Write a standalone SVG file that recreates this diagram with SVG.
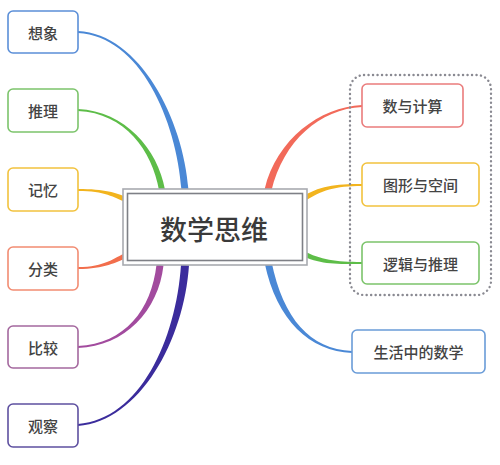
<svg xmlns="http://www.w3.org/2000/svg" width="500" height="465" viewBox="0 0 500 465">
<style>
.node rect{fill:#fff;stroke-width:1.6}
.node text{font-family:"Noto Sans CJK SC","Noto Sans",sans-serif;font-size:15px;font-weight:500;fill:#444;text-anchor:middle;dominant-baseline:central}
.rt text{font-size:15px}
</style>
<rect width="500" height="465" fill="#fff"/>
<g id="connectors">
<path d="M78,31 C140,34 183.5,119.75 188.5,189.75 L181.5,190.25 C176.5,120.25 140,36 78,33 Z" fill="#4a88d6"/>
<path d="M78,109 C125,111 157.95,149.5 164.95,189.5 L159.05,190.5 C152.05,150.5 125,113 78,111 Z" fill="#5dbd48"/>
<path d="M78,189 C105,189 115.95,192.7 127.95,197.7 L126.05,202.3 C114.05,197.3 105,191 78,191 Z" fill="#f2b41e"/>
<path d="M78,267 C105,267 114.05,257.7 126.05,252.7 L127.95,257.3 C115.95,262.3 105,269 78,269 Z" fill="#f26e4c"/>
<path d="M78,346 C125,344 151.53,309.61 156.53,264.61 L163.47,265.39 C158.47,310.39 125,346 78,348 Z" fill="#a24b9e"/>
<path d="M78,424 C140,419 176,339.73 181,264.73 L189,265.27 C184,340.27 140,421 78,426 Z" fill="#3b2c9c"/>
<path d="M264.6,189.2 C276.6,139.2 320,107 362,105 L362,107 C320,109 283.4,140.8 271.4,190.8 Z" fill="#f26a5a"/>
<path d="M300.6,197.9 C318.6,185.9 335,184 362,184 L362,186 C335,186 321.4,190.1 303.4,202.1 Z" fill="#f2b41e"/>
<path d="M303.1,250.8 C321.1,259.8 335,262 362,262 L362,264 C335,264 318.9,264.2 300.9,255.2 Z" fill="#5dbd48"/>
<path d="M271.4,261.3 C283.4,319.3 310,349 352,351 L352,353 C310,351 276.6,320.7 264.6,262.7 Z" fill="#4a88d6"/>
</g>
<g id="group-box">
<rect x="350" y="75" width="141" height="220" rx="14" fill="none" stroke="#8a8a92" stroke-width="2.4" stroke-dasharray="0.1 4.4" stroke-linecap="round"/>
</g>
<g id="center" class="node">
<rect x="123" y="189" width="184" height="76" fill="#fff" stroke="#a8aab0" stroke-width="1.5"/>
<rect x="127.5" y="193.5" width="175" height="67" fill="#fff" stroke="#7e8086" stroke-width="2"/>
<text x="214" y="228" style="font-size:27px;fill:#3a3a3a">数学思维</text>
</g>
<g id="n-xiangxiang" class="node"><rect x="8" y="11" width="70" height="42" rx="5" stroke="#5b8fd8"/><text x="43" y="32">想象</text></g>
<g id="n-tuili" class="node"><rect x="8" y="89" width="70" height="43" rx="5" stroke="#7cc46b"/><text x="43" y="110.5">推理</text></g>
<g id="n-jiyi" class="node"><rect x="8" y="168" width="70" height="43" rx="5" stroke="#f2c23e"/><text x="43" y="189.5">记忆</text></g>
<g id="n-fenlei" class="node"><rect x="8" y="247" width="70" height="43" rx="5" stroke="#f28c72"/><text x="43" y="268.5">分类</text></g>
<g id="n-bijiao" class="node"><rect x="8" y="326" width="70" height="42" rx="5" stroke="#a4689e"/><text x="43" y="347">比较</text></g>
<g id="n-guancha" class="node"><rect x="8" y="404" width="70" height="43" rx="5" stroke="#5e50a0"/><text x="43" y="425.5">观察</text></g>
<g id="n-shuyujisuan" class="node rt"><rect x="362" y="84" width="101" height="43" rx="5" stroke="#ea7c7c"/><text x="412.5" y="105.5">数与计算</text></g>
<g id="n-tuxing" class="node rt"><rect x="362" y="163" width="117" height="43" rx="5" stroke="#f2c23e"/><text x="420.5" y="184.5">图形与空间</text></g>
<g id="n-luoji" class="node rt"><rect x="362" y="242" width="117" height="42" rx="5" stroke="#7cc46b"/><text x="420.5" y="263">逻辑与推理</text></g>
<g id="n-shenghuo" class="node rt"><rect x="352" y="330" width="133" height="43" rx="5" stroke="#6a9cd8"/><text x="418.5" y="351.5">生活中的数学</text></g>
</svg>
